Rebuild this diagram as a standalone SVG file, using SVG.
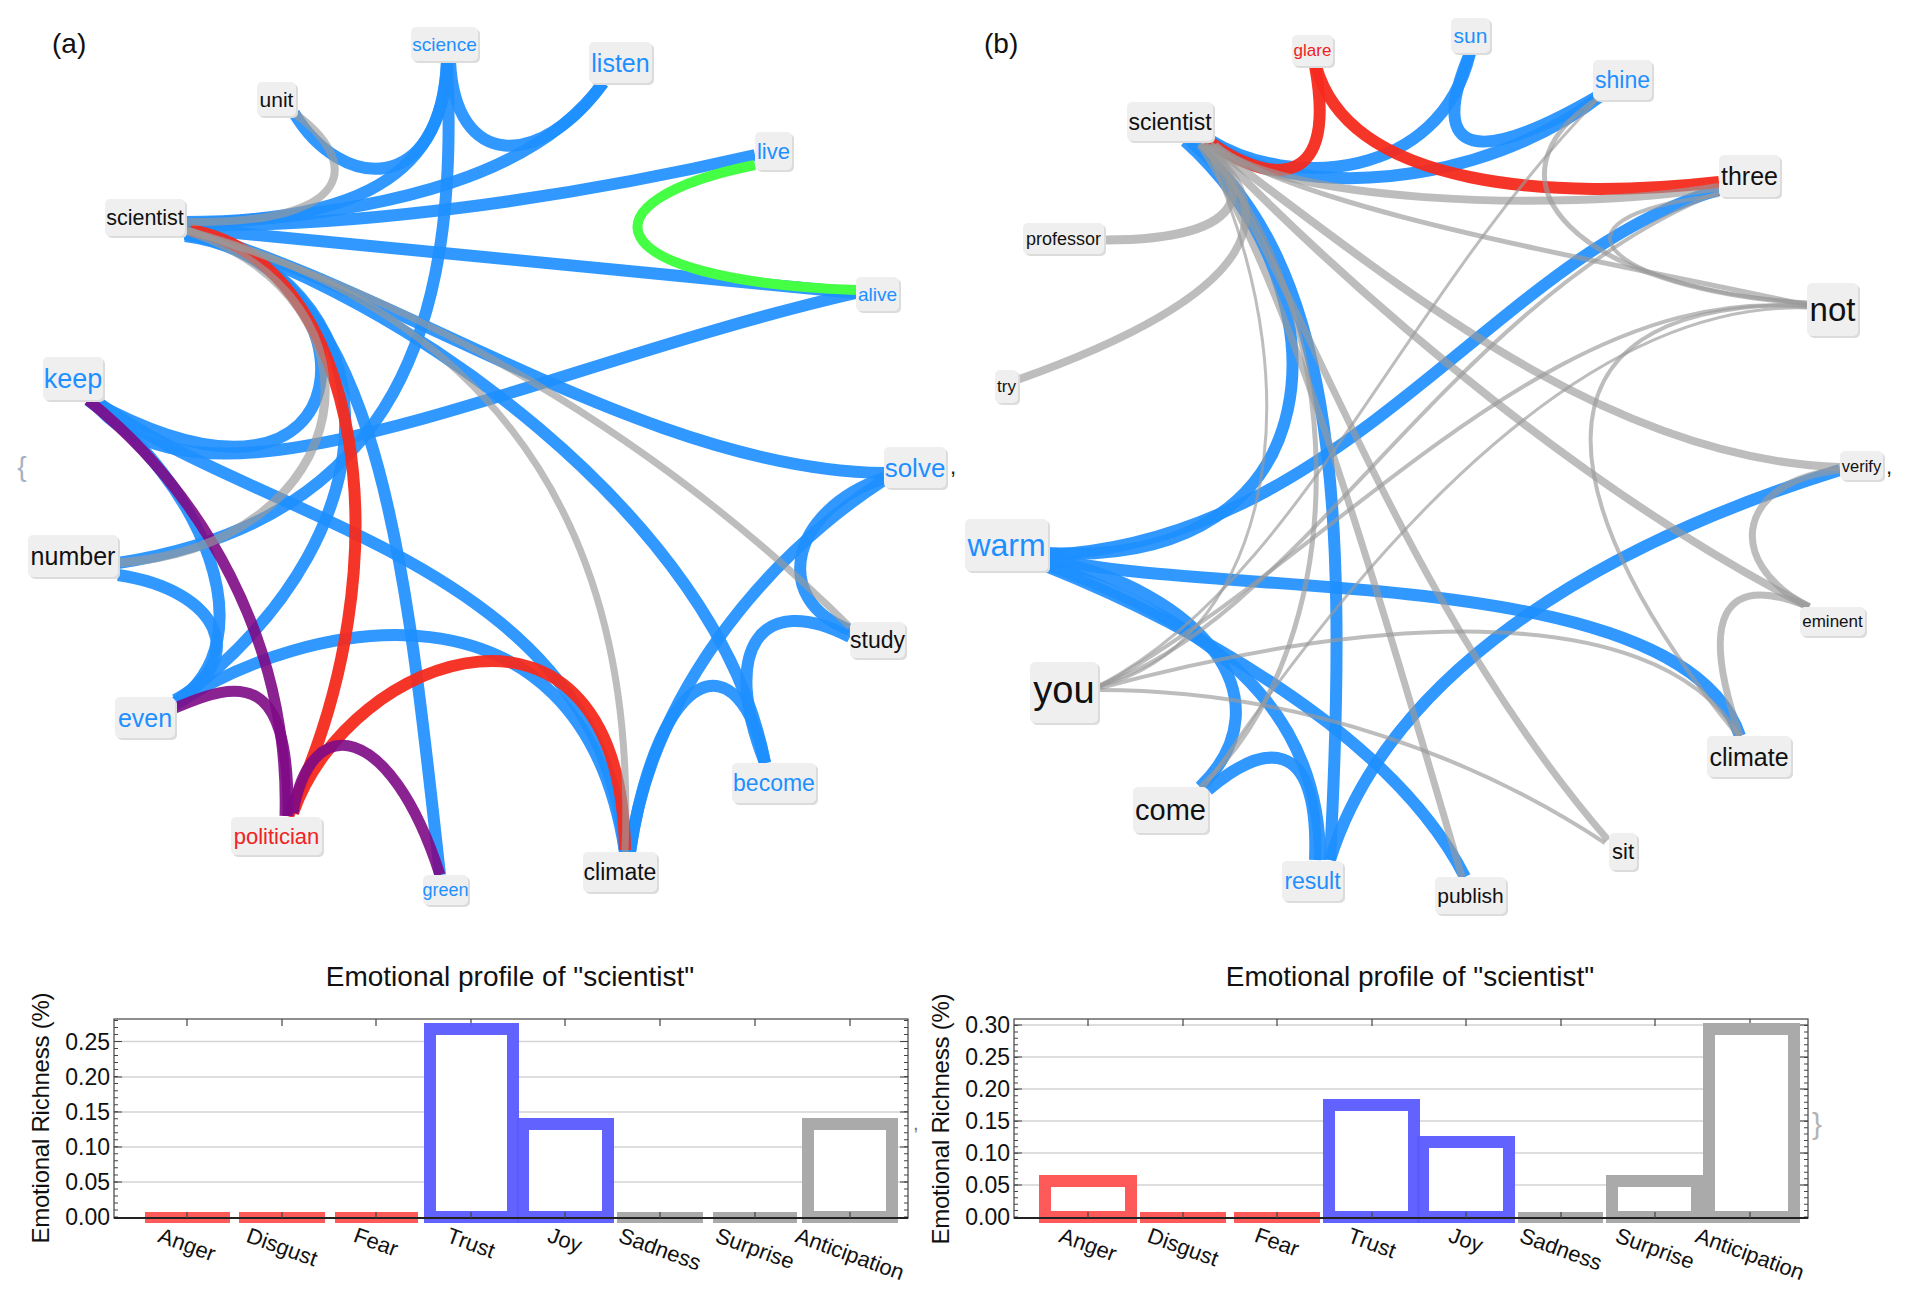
<svg xmlns="http://www.w3.org/2000/svg" width="1912" height="1300" viewBox="0 0 1912 1300">
<style>
.eb{fill:none;stroke:#1e8fff;stroke-opacity:.92;stroke-width:12}
.er{fill:none;stroke:#f52a1e;stroke-opacity:.95;stroke-width:12}
.ep{fill:none;stroke:#7e0a86;stroke-opacity:.9;stroke-width:11}
.eg{fill:none;stroke:#44ff44;stroke-width:10}
.ey{fill:none;stroke:#999;stroke-opacity:.65}
.box{fill:#efefef}
.sh{fill:#dcdcdc}
.t{font-family:"Liberation Sans",Arial,sans-serif;text-anchor:middle;dominant-baseline:central}
.k{fill:#111}.b{fill:#1e8fff}.r{fill:#f02222}
.ttl{font-family:"Liberation Sans",Arial,sans-serif;font-size:28px;text-anchor:middle;fill:#111}
.tk{font-family:"Liberation Sans",Arial,sans-serif;font-size:23px;text-anchor:end;dominant-baseline:central;fill:#111}
.xl{font-family:"Liberation Sans",Arial,sans-serif;font-size:22px;text-anchor:middle;dominant-baseline:central;fill:#111}
.yl{font-family:"Liberation Sans",Arial,sans-serif;font-size:24px;text-anchor:middle;dominant-baseline:central;fill:#111}
.grid{stroke:#d4d4d4;stroke-width:1.5;fill:none}
.frm{fill:none;stroke:#444;stroke-width:1.2}
.tick{stroke:#444;stroke-width:1.2;fill:none}
.br{fill:#fff;stroke:#ff5a5a;stroke-width:12}
.bb{fill:#fff;stroke:#5a5aff;stroke-width:12;stroke-opacity:.95}
.bg{fill:#fff;stroke:#aaa;stroke-width:12}
.zr{fill:#ff5a5a}.zg{fill:#aaa}
.pl{font-family:"Liberation Sans",Arial,sans-serif;font-size:28px;fill:#111}
</style>

<text class="pl" x="52" y="53">(a)</text>
<text class="pl" x="984" y="53">(b)</text>

<g id="connectors-a">
<path class="eb" d="M185,222 C330,222 445,190 447,61"/>
<path class="eb" d="M185,224 C400,215 540,170 603,83"/>
<path class="eb" d="M185,225 C350,228 560,200 755,155"/>
<path class="eb" d="M185,228 C400,249 650,273 856,293"/>
<path class="eb" d="M185,230 C400,290 650,470 884,473"/>
<path class="eb" d="M185,232 C400,290 720,520 765,763"/>
<path class="eb" d="M185,232 C380,265 405,560 440,875"/>
<path class="eb" d="M185,234 C380,270 420,520 175,703"/>
<path class="eb" d="M185,236 C380,260 380,560 90,400"/>
<path class="eb" d="M294,113 C340,190 440,200 447,61"/>
<path class="eb" d="M450,61 C455,170 540,170 603,83"/>
<path class="eb" d="M447,61 C460,320 400,520 118,563"/>
<path class="eb" d="M92,400 C200,540 520,370 856,293"/>
<path class="eb" d="M95,400 C250,520 600,560 625,852"/>
<path class="eb" d="M88,400 C200,480 270,640 175,703"/>
<path class="eb" d="M118,575 C220,590 250,660 175,700"/>
<path class="eb" d="M175,705 C300,620 580,560 625,852"/>
<path class="eb" d="M884,478 C790,510 770,600 850,630"/>
<path class="eb" d="M884,480 C760,560 650,700 630,852"/>
<path class="eb" d="M850,637 C760,590 720,650 765,763"/>
<path class="eb" d="M765,763 C740,640 660,660 630,852"/>
<path class="er" d="M190,230 C360,260 410,560 288,816"/>
<path class="er" d="M293,813 C350,650 620,560 625,850"/>
<path class="ep" d="M88,400 C200,490 290,640 285,816"/>
<path class="ep" d="M175,708 C240,680 290,670 288,816"/>
<path class="ep" d="M293,813 C310,710 390,720 440,875"/>
<path class="eg" d="M755,165 C580,200 590,280 856,290"/>
<path class="ey" stroke-width="8" d="M294,113 C360,160 360,225 185,222"/>
<path class="ey" stroke-width="9" d="M118,563 C360,545 400,300 185,230"/>
<path class="ey" stroke-width="7" d="M185,230 C450,300 640,480 625,852"/>
<path class="ey" stroke-width="7" d="M185,230 C420,300 650,430 850,627"/>
</g>

<g id="connectors-b">
<path class="eb" stroke-width="13" d="M1210,140 C1290,190 1440,180 1470,53"/>
<path class="eb" stroke-width="13" d="M1470,53 C1425,160 1480,165 1600,95"/>
<path class="eb" stroke-width="13" d="M1213,143 C1290,200 1480,190 1602,95"/>
<path class="eb" stroke-width="13" d="M1190,141 C1330,260 1350,480 1330,860"/>
<path class="eb" stroke-width="14" d="M1185,141 C1350,290 1340,570 1048,553"/>
<path class="eb" stroke-width="14" d="M1719,190 C1500,250 1350,540 1048,555"/>
<path class="eb" stroke-width="14" d="M1048,557 C1200,600 1680,560 1740,736"/>
<path class="eb" stroke-width="14" d="M1048,560 C1200,590 1290,700 1200,787"/>
<path class="eb" stroke-width="14" d="M1048,565 C1200,620 1320,700 1320,860"/>
<path class="eb" stroke-width="14" d="M1048,567 C1180,620 1390,730 1465,877"/>
<path class="eb" stroke-width="13" d="M1208,790 C1260,745 1320,730 1315,860"/>
<path class="eb" stroke-width="13" d="M1330,860 C1380,700 1550,560 1840,470"/>
<path class="er" stroke-width="13" d="M1207,140 C1260,180 1340,200 1315,66"/>
<path class="er" stroke-width="13" d="M1316,66 C1350,190 1560,200 1719,182"/>
<path class="ey" stroke-width="9" d="M1200,143 C1250,180 1260,240 1105,240"/>
<path class="ey" stroke-width="8" d="M1205,145 C1280,210 1270,290 1017,380"/>
<path class="ey" stroke-width="8" d="M1215,145 C1270,200 1550,215 1719,187"/>
<path class="ey" stroke-width="5" d="M1215,145 C1300,210 1600,260 1807,305"/>
<path class="ey" stroke-width="8" d="M1210,145 C1380,270 1600,460 1840,467"/>
<path class="ey" stroke-width="8" d="M1210,145 C1380,320 1600,500 1809,607"/>
<path class="ey" stroke-width="7" d="M1205,145 C1300,280 1400,600 1608,840"/>
<path class="ey" stroke-width="7" d="M1200,145 C1290,280 1380,600 1462,877"/>
<path class="ey" stroke-width="5" d="M1200,145 C1350,300 1360,640 1200,787"/>
<path class="ey" stroke-width="5" d="M1807,303 C1580,290 1470,180 1600,97"/>
<path class="ey" stroke-width="4" d="M1807,303 C1620,290 1520,220 1719,195"/>
<path class="ey" stroke-width="4" d="M1807,305 C1500,300 1560,520 1738,736"/>
<path class="ey" stroke-width="4" d="M1807,307 C1550,280 1330,560 1100,687"/>
<path class="ey" stroke-width="7" d="M1840,470 C1740,480 1720,560 1809,607"/>
<path class="ey" stroke-width="7" d="M1809,607 C1720,570 1700,620 1740,736"/>
<path class="ey" stroke-width="4" d="M1100,690 C1300,690 1480,760 1605,843"/>
<path class="ey" stroke-width="3" d="M1100,685 C1300,580 1400,300 1600,97"/>
<path class="ey" stroke-width="4" d="M1100,685 C1300,620 1450,300 1719,192"/>
<path class="ey" stroke-width="4" d="M1100,688 C1350,620 1650,590 1740,736"/>
<path class="ey" stroke-width="3" d="M1100,686 C1250,650 1330,420 1205,145"/>
<path class="ey" stroke-width="3" d="M1807,308 C1560,300 1330,600 1205,787"/>
</g>

<g id="a-science"><rect class="sh" x="413" y="29" width="67" height="34" rx="5"/><rect class="box" x="411" y="27" width="67" height="34" rx="5"/><text class="t b" x="444.5" y="44" font-size="19">science</text></g>
<g id="a-listen"><rect class="sh" x="591" y="44" width="63" height="41" rx="5"/><rect class="box" x="589" y="42" width="63" height="41" rx="5"/><text class="t b" x="620.5" y="62.5" font-size="25">listen</text></g>
<g id="a-unit"><rect class="sh" x="259" y="84" width="39" height="34" rx="5"/><rect class="box" x="257" y="82" width="39" height="34" rx="5"/><text class="t k" x="276.5" y="99" font-size="21">unit</text></g>
<g id="a-live"><rect class="sh" x="757" y="134" width="37" height="38" rx="5"/><rect class="box" x="755" y="132" width="37" height="38" rx="5"/><text class="t b" x="773.5" y="151" font-size="22">live</text></g>
<g id="a-scientist"><rect class="sh" x="107" y="201" width="80" height="37" rx="5"/><rect class="box" x="105" y="199" width="80" height="37" rx="5"/><text class="t k" x="145" y="217.5" font-size="21.5">scientist</text></g>
<g id="a-alive"><rect class="sh" x="858" y="279" width="43" height="34" rx="5"/><rect class="box" x="856" y="277" width="43" height="34" rx="5"/><text class="t b" x="877.5" y="294" font-size="19">alive</text></g>
<g id="a-keep"><rect class="sh" x="45" y="359" width="60" height="43" rx="5"/><rect class="box" x="43" y="357" width="60" height="43" rx="5"/><text class="t b" x="73" y="378.5" font-size="27">keep</text></g>
<g id="a-solve"><rect class="sh" x="886" y="449" width="62" height="41" rx="5"/><rect class="box" x="884" y="447" width="62" height="41" rx="5"/><text class="t b" x="915" y="467.5" font-size="26">solve</text></g>
<g id="a-number"><rect class="sh" x="30" y="537" width="90" height="42" rx="5"/><rect class="box" x="28" y="535" width="90" height="42" rx="5"/><text class="t k" x="73" y="556" font-size="25">number</text></g>
<g id="a-study"><rect class="sh" x="852" y="624" width="55" height="36" rx="5"/><rect class="box" x="850" y="622" width="55" height="36" rx="5"/><text class="t k" x="877.5" y="640" font-size="23">study</text></g>
<g id="a-even"><rect class="sh" x="117" y="699" width="60" height="41" rx="5"/><rect class="box" x="115" y="697" width="60" height="41" rx="5"/><text class="t b" x="145" y="717.5" font-size="25">even</text></g>
<g id="a-become"><rect class="sh" x="734" y="765" width="84" height="40" rx="5"/><rect class="box" x="732" y="763" width="84" height="40" rx="5"/><text class="t b" x="774" y="783" font-size="23">become</text></g>
<g id="a-politician"><rect class="sh" x="233" y="819" width="91" height="38" rx="5"/><rect class="box" x="231" y="817" width="91" height="38" rx="5"/><text class="t r" x="276.5" y="836" font-size="22">politician</text></g>
<g id="a-climate"><rect class="sh" x="585" y="854" width="74" height="40" rx="5"/><rect class="box" x="583" y="852" width="74" height="40" rx="5"/><text class="t k" x="620" y="872" font-size="23">climate</text></g>
<g id="a-green"><rect class="sh" x="425" y="877" width="45" height="30" rx="5"/><rect class="box" x="423" y="875" width="45" height="30" rx="5"/><text class="t b" x="445.5" y="890" font-size="18">green</text></g>

<g id="b-glare"><rect class="sh" x="1294" y="37" width="41" height="31" rx="5"/><rect class="box" x="1292" y="35" width="41" height="31" rx="5"/><text class="t r" x="1312.5" y="50.5" font-size="17">glare</text></g>
<g id="b-sun"><rect class="sh" x="1453" y="20" width="39" height="35" rx="5"/><rect class="box" x="1451" y="18" width="39" height="35" rx="5"/><text class="t b" x="1470.5" y="35.5" font-size="21">sun</text></g>
<g id="b-shine"><rect class="sh" x="1595" y="62" width="59" height="40" rx="5"/><rect class="box" x="1593" y="60" width="59" height="40" rx="5"/><text class="t b" x="1622.5" y="80" font-size="23">shine</text></g>
<g id="b-scientist"><rect class="sh" x="1129" y="104" width="86" height="39" rx="5"/><rect class="box" x="1127" y="102" width="86" height="39" rx="5"/><text class="t k" x="1170" y="121.5" font-size="23">scientist</text></g>
<g id="b-three"><rect class="sh" x="1721" y="157" width="61" height="42" rx="5"/><rect class="box" x="1719" y="155" width="61" height="42" rx="5"/><text class="t k" x="1749.5" y="176" font-size="25">three</text></g>
<g id="b-professor"><rect class="sh" x="1025" y="225" width="81" height="31" rx="5"/><rect class="box" x="1023" y="223" width="81" height="31" rx="5"/><text class="t k" x="1063.5" y="238.5" font-size="18">professor</text></g>
<g id="b-not"><rect class="sh" x="1809" y="285" width="51" height="53" rx="5"/><rect class="box" x="1807" y="283" width="51" height="53" rx="5"/><text class="t k" x="1832.5" y="309.5" font-size="33">not</text></g>
<g id="b-try"><rect class="sh" x="997" y="372" width="23" height="33" rx="5"/><rect class="box" x="995" y="370" width="23" height="33" rx="5"/><text class="t k" x="1006.5" y="386.5" font-size="17">try</text></g>
<g id="b-verify"><rect class="sh" x="1842" y="453" width="43" height="29" rx="5"/><rect class="box" x="1840" y="451" width="43" height="29" rx="5"/><text class="t k" x="1861.5" y="465.5" font-size="16.5">verify</text></g>
<g id="b-warm"><rect class="sh" x="967" y="521" width="83" height="52" rx="5"/><rect class="box" x="965" y="519" width="83" height="52" rx="5"/><text class="t b" x="1006.5" y="545" font-size="32">warm</text></g>
<g id="b-eminent"><rect class="sh" x="1802" y="609" width="65" height="29" rx="5"/><rect class="box" x="1800" y="607" width="65" height="29" rx="5"/><text class="t k" x="1832.5" y="621.5" font-size="17">eminent</text></g>
<g id="b-you"><rect class="sh" x="1032" y="664" width="68" height="61" rx="5"/><rect class="box" x="1030" y="662" width="68" height="61" rx="5"/><text class="t k" x="1064" y="690" font-size="38">you</text></g>
<g id="b-climate"><rect class="sh" x="1709" y="738" width="84" height="41" rx="5"/><rect class="box" x="1707" y="736" width="84" height="41" rx="5"/><text class="t k" x="1749" y="756.5" font-size="25">climate</text></g>
<g id="b-come"><rect class="sh" x="1135" y="789" width="75" height="46" rx="5"/><rect class="box" x="1133" y="787" width="75" height="46" rx="5"/><text class="t k" x="1170.5" y="810" font-size="29">come</text></g>
<g id="b-sit"><rect class="sh" x="1611" y="835" width="28" height="37" rx="5"/><rect class="box" x="1609" y="833" width="28" height="37" rx="5"/><text class="t k" x="1623" y="851.5" font-size="22">sit</text></g>
<g id="b-result"><rect class="sh" x="1284" y="863" width="61" height="40" rx="5"/><rect class="box" x="1282" y="861" width="61" height="40" rx="5"/><text class="t b" x="1312.5" y="881" font-size="23">result</text></g>
<g id="b-publish"><rect class="sh" x="1437" y="879" width="71" height="37" rx="5"/><rect class="box" x="1435" y="877" width="71" height="37" rx="5"/><text class="t k" x="1470.5" y="895.5" font-size="21">publish</text></g>

<text x="22" y="476" font-family="Liberation Sans, Arial, sans-serif" font-size="28" fill="#a4b2c0" text-anchor="middle">{</text>
<text x="950" y="474" font-family="Liberation Sans, Arial, sans-serif" font-size="22" fill="#222">,</text>
<text x="1886" y="474" font-family="Liberation Sans, Arial, sans-serif" font-size="22" fill="#222">,</text>
<text x="913" y="1130" font-family="Liberation Sans, Arial, sans-serif" font-size="20" fill="#777">,</text>
<text x="1817" y="1134" font-family="Liberation Sans, Arial, sans-serif" font-size="30" fill="#b4b4b4" text-anchor="middle">}</text>

<g id="chart-a">
<text class="ttl" x="510" y="986">Emotional profile of "scientist"</text>
<path class="grid" d="M114,1182H908M114,1147H908M114,1112H908M114,1077H908M114,1041.5H908"/>
<rect class="frm" x="114" y="1019" width="794" height="199"/>
<line x1="116" y1="1217.5" x2="116" y2="1020" stroke="#444" stroke-width="4" stroke-dasharray="1 6.02"/>
<line x1="906" y1="1217.5" x2="906" y2="1020" stroke="#444" stroke-width="4" stroke-dasharray="1 6.02"/>
<path class="tick" d="M114,1182h8M114,1147h8M114,1112h8M114,1077h8M114,1041.5h8M908,1182h-8M908,1147h-8M908,1112h-8M908,1077h-8M908,1041.5h-8M187,1019v7M282,1019v7M376,1019v7M471,1019v7M565,1019v7M660,1019v7M755,1019v7M850,1019v7"/>
<rect class="zr" x="145" y="1212" width="85" height="11"/>
<rect class="zr" x="239" y="1212" width="86" height="11"/>
<rect class="zr" x="335" y="1212" width="83" height="11"/>
<rect class="bb" x="430" y="1029" width="83" height="188"/>
<rect class="bb" x="523" y="1124" width="85" height="93"/>
<rect class="zg" x="617" y="1212" width="86" height="11"/>
<rect class="zg" x="713" y="1212" width="84" height="11"/>
<rect class="bg" x="808" y="1124" width="84" height="93"/>
<line x1="114" y1="1218" x2="908" y2="1218" stroke="#222" stroke-width="2"/>
<path class="tick" d="M187,1218v-6M282,1218v-6M376,1218v-6M471,1218v-6M565,1218v-6M660,1218v-6M755,1218v-6M850,1218v-6"/>
<text class="tk" x="110" y="1217">0.00</text>
<text class="tk" x="110" y="1182">0.05</text>
<text class="tk" x="110" y="1147">0.10</text>
<text class="tk" x="110" y="1112">0.15</text>
<text class="tk" x="110" y="1077">0.20</text>
<text class="tk" x="110" y="1041.5">0.25</text>
<text class="xl" transform="translate(187,1244.5) rotate(20)">Anger</text>
<text class="xl" transform="translate(282,1247) rotate(20)">Disgust</text>
<text class="xl" transform="translate(376,1242) rotate(20)">Fear</text>
<text class="xl" transform="translate(471,1243) rotate(20)">Trust</text>
<text class="xl" transform="translate(565,1240) rotate(20)">Joy</text>
<text class="xl" transform="translate(660,1249) rotate(20)">Sadness</text>
<text class="xl" transform="translate(755,1248.5) rotate(20)">Surprise</text>
<text class="xl" transform="translate(850,1254) rotate(20)">Anticipation</text>
<text class="yl" transform="translate(40,1118) rotate(-90)" textLength="251" lengthAdjust="spacing">Emotional Richness (%)</text>
</g>

<g id="chart-b">
<text class="ttl" x="1410" y="986">Emotional profile of "scientist"</text>
<path class="grid" d="M1014,1185H1808M1014,1153H1808M1014,1121H1808M1014,1089H1808M1014,1057H1808M1014,1025H1808"/>
<rect class="frm" x="1014" y="1019" width="794" height="199"/>
<line x1="1016" y1="1217.5" x2="1016" y2="1020" stroke="#444" stroke-width="4" stroke-dasharray="1 5.38"/>
<line x1="1806" y1="1217.5" x2="1806" y2="1020" stroke="#444" stroke-width="4" stroke-dasharray="1 5.38"/>
<path class="tick" d="M1014,1185h8M1014,1153h8M1014,1121h8M1014,1089h8M1014,1057h8M1014,1025h8M1808,1185h-8M1808,1153h-8M1808,1121h-8M1808,1089h-8M1808,1057h-8M1808,1025h-8M1088,1019v7M1183,1019v7M1277,1019v7M1372,1019v7M1466,1019v7M1561,1019v7M1655,1019v7M1750,1019v7"/>
<rect class="br" x="1045" y="1181" width="86" height="36"/>
<rect class="zr" x="1140" y="1212" width="86" height="11"/>
<rect class="zr" x="1234" y="1212" width="86" height="11"/>
<rect class="bb" x="1329" y="1105" width="85" height="112"/>
<rect class="bb" x="1423" y="1142" width="86" height="75"/>
<rect class="zg" x="1518" y="1212" width="85" height="11"/>
<rect class="bg" x="1612" y="1181" width="85" height="36"/>
<rect class="bg" x="1709" y="1029" width="85" height="188"/>
<line x1="1014" y1="1218" x2="1808" y2="1218" stroke="#222" stroke-width="2"/>
<path class="tick" d="M1088,1218v-6M1183,1218v-6M1277,1218v-6M1372,1218v-6M1466,1218v-6M1561,1218v-6M1655,1218v-6M1750,1218v-6"/>
<text class="tk" x="1010" y="1217">0.00</text>
<text class="tk" x="1010" y="1185">0.05</text>
<text class="tk" x="1010" y="1153">0.10</text>
<text class="tk" x="1010" y="1121">0.15</text>
<text class="tk" x="1010" y="1089">0.20</text>
<text class="tk" x="1010" y="1057">0.25</text>
<text class="tk" x="1010" y="1025">0.30</text>
<text class="xl" transform="translate(1088,1244.5) rotate(20)">Anger</text>
<text class="xl" transform="translate(1183,1247) rotate(20)">Disgust</text>
<text class="xl" transform="translate(1277,1242) rotate(20)">Fear</text>
<text class="xl" transform="translate(1372,1243) rotate(20)">Trust</text>
<text class="xl" transform="translate(1466,1240) rotate(20)">Joy</text>
<text class="xl" transform="translate(1561,1249) rotate(20)">Sadness</text>
<text class="xl" transform="translate(1655,1248.5) rotate(20)">Surprise</text>
<text class="xl" transform="translate(1750,1254) rotate(20)">Anticipation</text>
<text class="yl" transform="translate(940,1119) rotate(-90)" textLength="251" lengthAdjust="spacing">Emotional Richness (%)</text>
</g>
</svg>
